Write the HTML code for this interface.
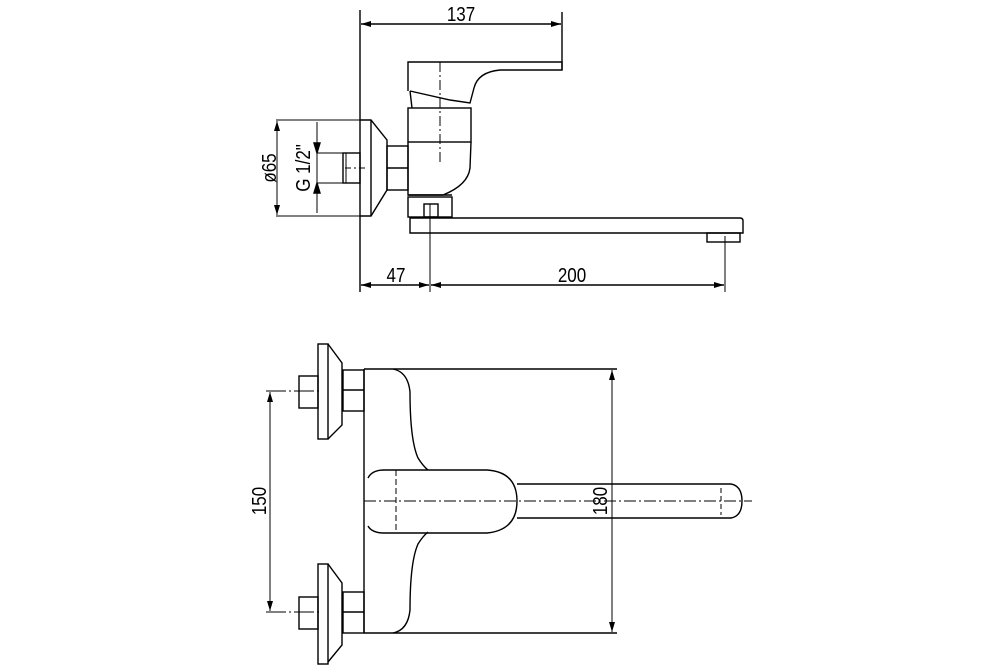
<!DOCTYPE html>
<html><head><style>
html,body{margin:0;padding:0;background:#fff;width:1000px;height:667px;overflow:hidden}
svg{display:block}
text{font-family:"Liberation Sans",sans-serif;font-size:20px;fill:#000}
</style></head><body>
<svg width="1000" height="667" viewBox="0 0 1000 667" xmlns="http://www.w3.org/2000/svg">
<defs>
<marker id="a" viewBox="0 0 10 6" refX="10" refY="3" markerWidth="10" markerHeight="6" orient="auto-start-reverse" markerUnits="userSpaceOnUse"><path d="M0,0 L10,3 L0,6 z" fill="#000"/></marker>
</defs>
<g fill="none" stroke="#000" stroke-width="1.4">
<line x1="360" y1="10" x2="360" y2="292"/>
<line x1="562" y1="12" x2="562" y2="70"/>
<line x1="361" y1="24" x2="561" y2="24" marker-start="url(#a)" marker-end="url(#a)"/>
<path d="M408,91 L408,62 L562,62 L562,70 L500,70 Q478,72 474,88 L470,103 L450,100 L410,91"/>
<line x1="410" y1="91" x2="412" y2="108"/>
<rect x="408" y="108" width="63" height="34"/>
<path d="M408,142 L408,195 L443,195 Q468,185 470,168 L471,142"/>
<line x1="408" y1="195" x2="452" y2="195"/>
<line x1="440" y1="62" x2="440" y2="163" stroke-dasharray="10,3,2,3" stroke-width="1"/>
<rect x="387" y="146" width="21" height="44"/>
<line x1="387" y1="168" x2="408" y2="168"/>
<path d="M360,120 L371,120 L387,140 L387,190 L371,216 L360,216"/>
<line x1="371" y1="120" x2="371" y2="216"/>
<line x1="276" y1="120" x2="360" y2="120" stroke-width="1"/>
<line x1="276" y1="216" x2="360" y2="216" stroke-width="1"/>
<rect x="343" y="153" width="17" height="30"/>
<line x1="346" y1="153" x2="346" y2="183" stroke-width="1"/>
<line x1="317" y1="153" x2="343" y2="153" stroke-width="1"/>
<line x1="317" y1="183" x2="343" y2="183" stroke-width="1"/>
<line x1="345" y1="168" x2="366" y2="168" stroke-dasharray="6,3,2,3" stroke-width="1"/>
<line x1="277" y1="121" x2="277" y2="215" marker-start="url(#a)" marker-end="url(#a)" stroke-width="1"/>
<line x1="317" y1="122" x2="317" y2="213" stroke-width="1"/>
<path d="M314,143 L317,153 L320,143 z M314,193 L317,183 L320,193 z" fill="#000"/>
<rect x="408" y="197" width="44" height="20"/>
<rect x="424" y="204" width="14" height="13"/>
<line x1="430" y1="204" x2="430" y2="292" stroke-width="1"/>
<path d="M410,218 L740,218 Q743,218 743,221 L743,233 L410,233 Z"/>
<rect x="707" y="233" width="33" height="9"/>
<line x1="725" y1="236" x2="725" y2="292" stroke-width="1"/>
<line x1="361" y1="285" x2="429" y2="285" marker-start="url(#a)" marker-end="url(#a)"/>
<line x1="431" y1="285" x2="724" y2="285" marker-start="url(#a)" marker-end="url(#a)"/>

<line x1="364" y1="369" x2="364" y2="633"/>
<line x1="364" y1="369" x2="617" y2="369"/>
<line x1="364" y1="633" x2="617" y2="633"/>
<line x1="612" y1="370" x2="612" y2="632" marker-start="url(#a)" marker-end="url(#a)" stroke-width="1"/>
<path d="M393,369 Q408,372 410,392 Q410,440 418,458 Q423,466 428,470"/>
<path d="M393,633 Q408,630 410,610 Q410,562 418,544 Q423,536 428,532"/>
<path d="M368,478 Q372,470 384,470 L487,470 Q517,472 517,501 Q517,530 487,533 L384,533 Q372,533 368,526"/>
<line x1="396" y1="470" x2="396" y2="533" stroke-dasharray="6,3" stroke-width="1"/>
<path d="M517,484 L731,484 Q742,486 742,501 Q742,516 731,518 L517,518"/>
<line x1="721" y1="488" x2="721" y2="515" stroke-dasharray="5,3" stroke-width="1"/>
<line x1="364" y1="501" x2="752" y2="501" stroke-dasharray="12,3,2,3" stroke-width="1"/>
<rect x="318" y="344" width="10" height="95"/>
<path d="M328,344 L342,363 L342,425 L328,439"/>
<rect x="343" y="370" width="21" height="41"/>
<line x1="343" y1="390" x2="364" y2="390"/>
<rect x="299" y="376" width="19" height="32"/>
<line x1="266" y1="391" x2="320" y2="391" stroke-dasharray="20,3,2,3" stroke-width="1"/>
<rect x="318" y="564" width="10" height="100"/>
<path d="M328,564 L342,583 L342,645 L328,662"/>
<rect x="343" y="592" width="21" height="41"/>
<line x1="343" y1="612" x2="364" y2="612"/>
<rect x="299" y="597" width="19" height="32"/>
<line x1="266" y1="612" x2="320" y2="612" stroke-dasharray="20,3,2,3" stroke-width="1"/>
<line x1="270" y1="392" x2="270" y2="611" marker-start="url(#a)" marker-end="url(#a)" stroke-width="1"/>
</g>
<text transform="translate(461,21) scale(0.85,1)" text-anchor="middle">137</text>
<text transform="translate(396,282) scale(0.85,1)" text-anchor="middle">47</text>
<text transform="translate(572,282) scale(0.85,1)" text-anchor="middle">200</text>
<text transform="translate(276,168) rotate(-90) scale(0.85,1)" text-anchor="middle">ø65</text>
<text transform="translate(310,168) rotate(-90) scale(0.85,1)" text-anchor="middle">G 1/2"</text>
<text transform="translate(266,501) rotate(-90) scale(0.85,1)" text-anchor="middle">150</text>
<text transform="translate(607,501) rotate(-90) scale(0.85,1)" text-anchor="middle">180</text>
</svg>
</body></html>
